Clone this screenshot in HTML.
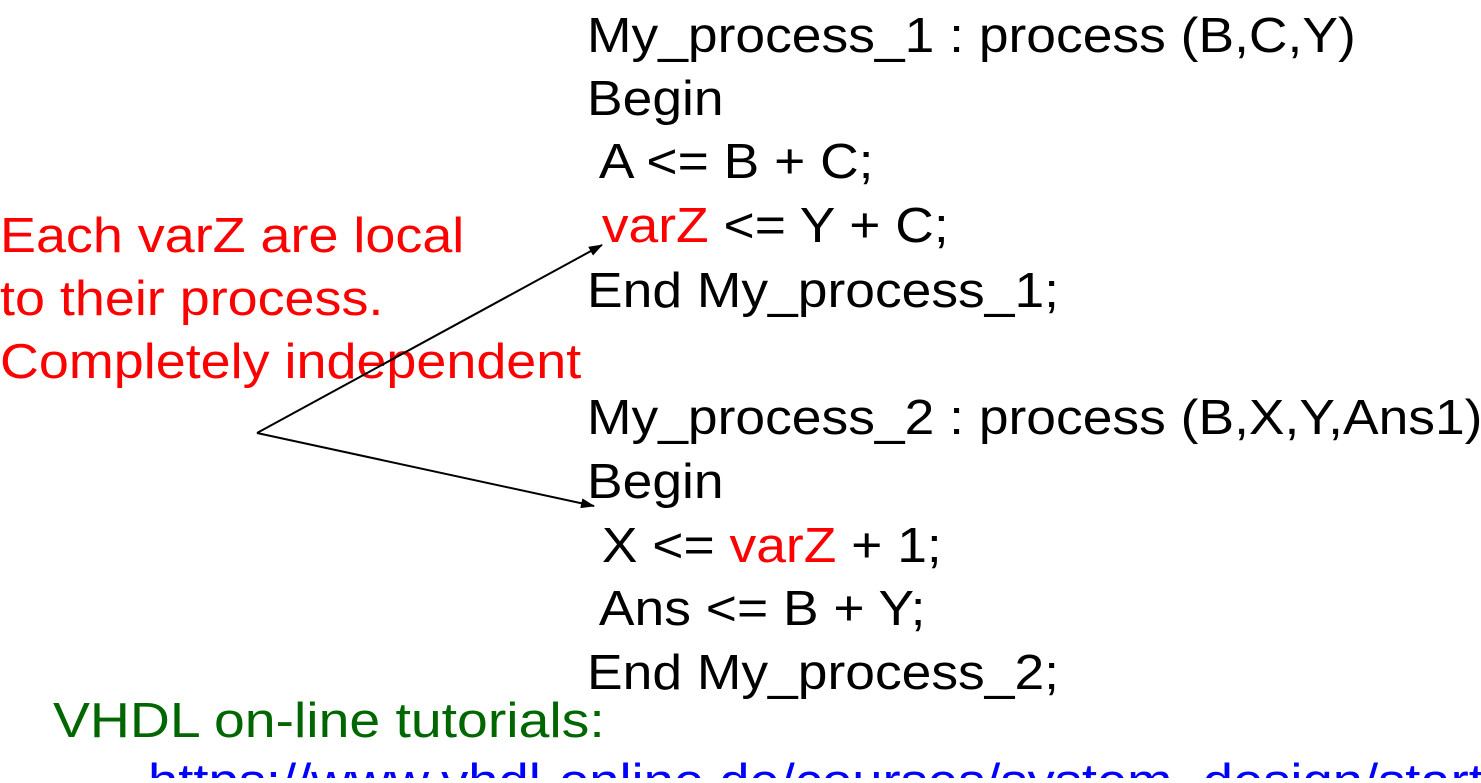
<!DOCTYPE html>
<html><head><meta charset="utf-8"><style>
html,body{margin:0;padding:0;background:#fff;overflow:hidden}
svg text{font-family:"Liberation Sans",Arial,sans-serif;font-size:49px}
</style></head><body>
<svg width="1481" height="778" viewBox="0 0 1481 778" xmlns="http://www.w3.org/2000/svg">
<defs><marker id="a" markerWidth="14" markerHeight="10" refX="13" refY="5" orient="auto" markerUnits="userSpaceOnUse"><path d="M0,0 L14,5 L0,10 z" fill="#000"/></marker></defs>
<g fill="#000" transform="translate(587,0) scale(1.09,1)">
<text x="0" y="52">My_process_1 : process (B,C,Y)</text>
<text x="0" y="115">Begin</text>
<text x="0" y="178" xml:space="preserve"> A &lt;= B + C;</text>
<text x="0" y="242" xml:space="preserve"> <tspan fill="#f00">varZ</tspan> &lt;= Y + C;</text>
<text x="0" y="307">End My_process_1;</text>
<text x="0" y="434">My_process_2 : process (B,X,Y,Ans1)</text>
<text x="0" y="498">Begin</text>
<text x="0" y="562" xml:space="preserve"> X &lt;= <tspan fill="#f00">varZ</tspan> + 1;</text>
<text x="0" y="625" xml:space="preserve"> Ans &lt;= B + Y;</text>
<text x="0" y="689">End My_process_2;</text>
</g>
<g fill="#f00" transform="scale(1.1,1)">
<text x="0" y="252">Each varZ are local</text>
<text x="0" y="315">to their process.</text>
<text x="0" y="378">Completely independent</text>
</g>
<text transform="translate(53,0) scale(1.13,1)" x="0" y="737" fill="#006600">VHDL on-line tutorials:</text>
<text transform="translate(148,0) scale(1.11,1)" x="0" y="798" fill="#0000ff" text-decoration="underline">https://www.vhdl-online.de/courses/system_design/start</text>
<line x1="257" y1="433" x2="602" y2="245" stroke="#000" stroke-width="2" marker-end="url(#a)"/>
<line x1="257" y1="433" x2="594" y2="506" stroke="#000" stroke-width="2" marker-end="url(#a)"/>
</svg>
</body></html>
